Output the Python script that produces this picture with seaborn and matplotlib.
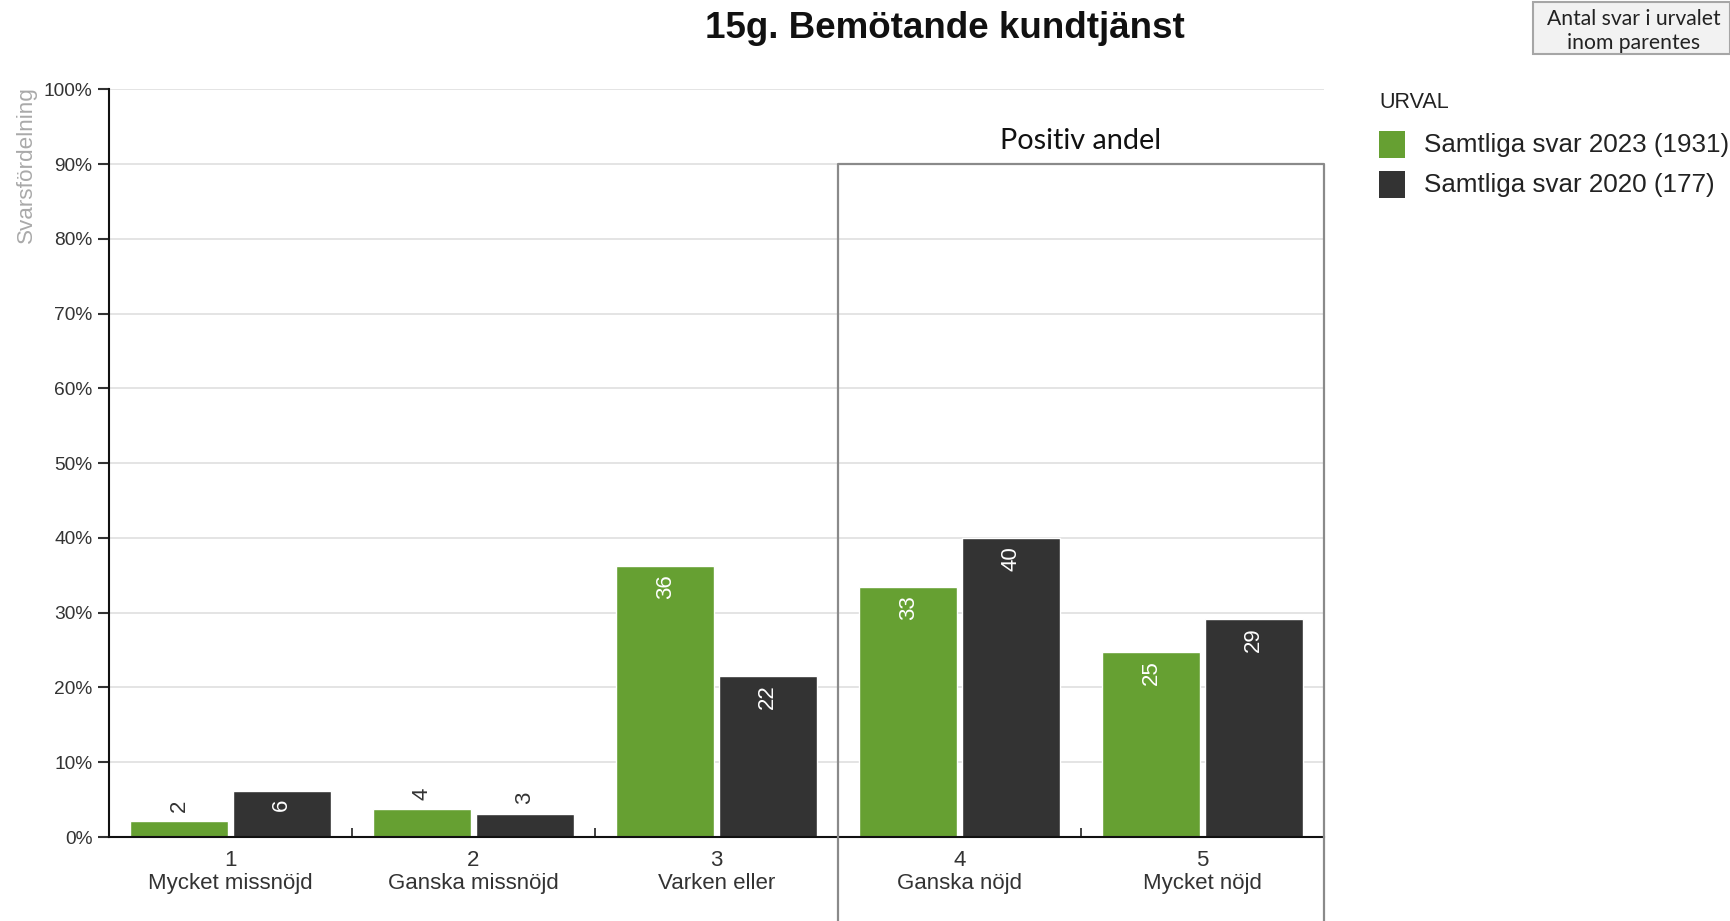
import matplotlib
matplotlib.use("Agg")
import matplotlib.pyplot as plt
from matplotlib.patches import Rectangle
from matplotlib.ticker import FixedLocator
import seaborn as sns
import pandas as pd

# ---- data -------------------------------------------------------------
categories = ["1\nMycket missnöjd", "2\nGanska missnöjd", "3\nVarken eller",
              "4\nGanska nöjd", "5\nMycket nöjd"]
series_names = ["Samtliga svar 2023 (1931)", "Samtliga svar 2020 (177)"]
values_2023 = [2.1, 3.7, 36.2, 33.4, 24.7]
values_2020 = [6.2, 3.1, 21.6, 40.0, 29.2]
series_colors = ["#66a032", "#333333"]
y_ticks = [0, 10, 20, 30, 40, 50, 60, 70, 80, 90, 100]
y_tick_labels = [f"{v}%" for v in y_ticks]

title = "15g. Bemötande kundtjänst"
y_label = "Svarsfördelning"
legend_title = "URVAL"
positive_label = "Positiv andel"
note_text = "Antal svar i urvalet\ninom parentes"

df = pd.DataFrame({
    "kategori": categories * 2,
    "andel": values_2023 + values_2020,
    "urval": [series_names[0]] * len(categories) + [series_names[1]] * len(categories),
})

# ---- style ------------------------------------------------------------
sns.set_style("white")
plt.rcParams["font.family"] = ["Liberation Sans", "DejaVu Sans"]

W, H = 1731, 921
fig = plt.figure(figsize=(W / 100, H / 100), dpi=100)
ax = fig.add_axes([109 / W, 1 - 837 / H, (1324 - 109) / W, (837 - 89.4) / H])

sns.barplot(data=df, x="kategori", y="andel", hue="urval", order=categories,
            hue_order=series_names, palette=series_colors, saturation=1,
            width=0.845, gap=0.046, edgecolor="white", linewidth=1,
            legend=False, ax=ax)

ax.set_xlim(-0.5, 4.5)
ax.set_ylim(0, 100)
ax.set_yticks(y_ticks)
ax.set_yticklabels(y_tick_labels)
ax.set_xlabel("")

ax.yaxis.grid(True, color="#e4e4e4", linewidth=1.4)
ax.xaxis.grid(False)
ax.set_axisbelow(True)

for side in ("top", "right"):
    ax.spines[side].set_visible(False)
for side in ("left", "bottom"):
    ax.spines[side].set_color("#111111")
    ax.spines[side].set_linewidth(1.5)

ax.tick_params(axis="y", direction="out", length=8, width=1.5, color="#333333",
               labelsize=13.8, labelcolor="#333333", pad=4, left=True)
ax.tick_params(axis="x", which="major", length=0, labelsize=16,
               labelcolor="#333333", pad=9.5)
for lbl in ax.get_xticklabels():
    lbl.set_linespacing(1.1)
ax.xaxis.set_minor_locator(FixedLocator([0.5, 1.5, 2.5, 3.5, 4.5]))
ax.tick_params(axis="x", which="minor", direction="in", length=6.5, width=1.3,
               color="#333333", bottom=True)

ax.set_ylabel(y_label, loc="top", color="#aaaaaa", fontsize=16.2)
ax.yaxis.set_label_coords(-0.059, 1.004)

# ---- value labels -------------------------------------------------------
for container, vals in zip(ax.containers, [values_2023, values_2020]):
    for bar, v in zip(container, vals):
        xc = bar.get_x() + bar.get_width() / 2
        txt = f"{round(v)}"
        if v > 5:
            ax.annotate(txt, (xc, v), xytext=(0, -6), textcoords="offset points",
                        rotation=90, ha="center", va="top", fontsize=16,
                        color="white")
        else:
            ax.annotate(txt, (xc, v), xytext=(0, 7), textcoords="offset points",
                        rotation=90, ha="center", va="bottom", fontsize=16,
                        color="#333333")

# ---- "Positiv andel" frame ---------------------------------------------
ax.plot([2.5, 2.5, 4.5, 4.5], [-20, 90, 90, -20], color="#8a8a8a",
        linewidth=1.6, clip_on=False, zorder=5)
ax.text(3.5, 92.0, positive_label, ha="center", va="baseline",
        fontsize=20.8, family=["Lato", "DejaVu Sans"], color="#111111")

# ---- title ---------------------------------------------------------------
fig.text(945 / W, 1 - 28 / H, title, ha="center", va="center",
         fontsize=26.5, fontweight="bold", color="#111111")

# ---- note box ------------------------------------------------------------
fig.add_artist(Rectangle((1533 / W, 1 - 54 / H), (1730 - 1533) / W, 52 / H,
                         transform=fig.transFigure, facecolor="#f2f2f2",
                         edgecolor="#a6a6a6", linewidth=1.5))
fig.text(1634 / W, 1 - 31 / H, note_text, ha="center", va="center",
         fontsize=15.2, linespacing=1.2, family=["Lato", "DejaVu Sans"],
         color="#222222")

# ---- legend --------------------------------------------------------------
fig.text(1379 / W, 1 - 102 / H, legend_title, ha="left", va="center",
         fontsize=15.5, color="#222222")
for i, (name, col) in enumerate(zip(series_names, series_colors)):
    y_mid = 145 + 40 * i
    fig.add_artist(Rectangle((1379 / W, 1 - (y_mid + 13.5) / H), 26 / W, 27 / H,
                             transform=fig.transFigure, facecolor=col,
                             edgecolor="none"))
    fig.text(1424 / W, 1 - y_mid / H, name, ha="left", va="center",
             fontsize=18.7, color="#222222")

fig.savefig("out.png", dpi=100)
